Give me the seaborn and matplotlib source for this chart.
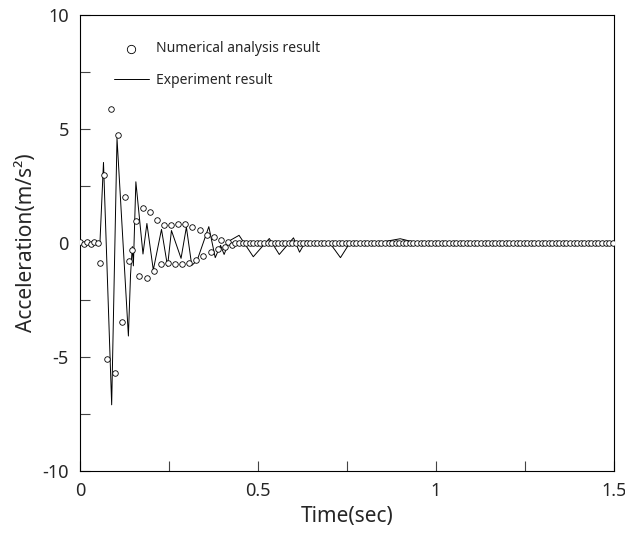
import matplotlib
matplotlib.use("Agg")
import matplotlib.pyplot as plt
import seaborn as sns
import numpy as np
import pandas as pd

num_t_early = [0.0, 0.01, 0.02, 0.03, 0.04, 0.05, 0.056, 0.068, 0.077, 0.087, 0.097, 0.106, 0.117, 0.126, 0.138, 0.147,
               0.157, 0.167, 0.177, 0.187, 0.198, 0.208, 0.216, 0.228, 0.236, 0.247, 0.256, 0.267, 0.276, 0.287,
               0.296, 0.307, 0.316, 0.326, 0.336, 0.347, 0.356, 0.367, 0.376, 0.387, 0.397, 0.407, 0.417, 0.427]
num_y_early = [0.05, -0.05, 0.05, -0.05, 0.05, 0.0, -0.88, 3.0, -5.09, 5.88, -5.7, 4.74, -3.48, 2.02, -0.79, -0.3,
               0.96, -1.43, 1.53, -1.55, 1.36, -1.24, 1.0, -0.93, 0.8, -0.88, 0.79, -0.9, 0.83, -0.92,
               0.82, -0.88, 0.72, -0.73, 0.56, -0.56, 0.37, -0.39, 0.25, -0.26, 0.13, -0.16, 0.03, -0.08]
num_t_late = [round(0.437 + 0.01 * i, 3) for i in range(107)]
num_y_late = [0.0] * 107

exp_t = [0.0, 0.02, 0.04, 0.05, 0.056, 0.066, 0.089, 0.104, 0.136, 0.142, 0.147, 0.150, 0.157, 0.177, 0.188,
         0.206, 0.229, 0.246, 0.257, 0.284, 0.299, 0.314, 0.329, 0.362, 0.38, 0.395, 0.405, 0.42, 0.447, 0.487,
         0.532, 0.56, 0.6, 0.617, 0.635, 0.66, 0.7, 0.732, 0.76, 0.8, 0.85, 0.9, 0.95, 1.0, 1.1, 1.2, 1.3, 1.4, 1.5]
exp_y = [0.1, -0.05, 0.05, 0.0, 0.0, 3.54, -7.1, 4.6, -4.08, -1.4, -0.15, -1.0, 2.69, -0.48, 0.86,
         -1.18, 0.6, -1.02, 0.55, -0.67, 0.7, -0.98, -0.77, 0.72, -0.64, -0.1, -0.5, 0.1, 0.34, -0.6,
         0.2, -0.5, 0.23, -0.4, 0.1, -0.05, 0.05, -0.64, 0.05, -0.05, 0.05, 0.19, 0.0, 0.05, 0.0, 0.03, 0.0, 0.02, 0.0]

sns.set_style("white")
plt.rcParams['font.family'] = ['Noto Sans', 'DejaVu Sans']
plt.rcParams['axes.unicode_minus'] = False

fig = plt.figure(figsize=(6.25, 5.45), dpi=100)
ax = fig.add_axes([0.128, 0.136, 0.854, 0.836])

num_df = pd.DataFrame({"t": num_t_early + num_t_late, "y": num_y_early + num_y_late})
exp_df = pd.DataFrame({"t": exp_t, "y": exp_y})

sns.lineplot(data=exp_df, x="t", y="y", ax=ax, color="black", linewidth=0.7, label="Experiment result", zorder=2)
ax.scatter(num_df["t"], num_df["y"], s=16, facecolors="white", edgecolors="black", linewidths=0.6,
           label="Numerical analysis result", zorder=3)

ax.set_xlim(0, 1.5)
ax.set_ylim(-10, 10)
ax.set_xticks([0, 0.5, 1, 1.5])
ax.set_xticklabels(["0", "0.5", "1", "1.5"])
ax.set_xticks([0.25, 0.75, 1.25], minor=True)
ax.set_yticks([-10, -5, 0, 5, 10])
ax.set_yticks([-7.5, -2.5, 2.5, 7.5], minor=True)
ax.tick_params(which="both", direction="in", bottom=True, left=True, length=7, width=0.8, labelsize=13,
               color="#444444")
ax.tick_params(which="major", pad=8)
for s in ax.spines.values():
    s.set_linewidth(0.8)
    s.set_color("black")
ax.set_xlabel("Time(sec)", fontsize=15)
ax.set_ylabel("Acceleration(m/s²)", fontsize=15)

h, l = ax.get_legend_handles_labels()
ax.legend([h[1], h[0]], [l[1], l[0]], loc="upper left", bbox_to_anchor=(0.04, 0.97), frameon=False,
          fontsize=10, handlelength=2.5, handletextpad=0.5, labelspacing=1.2, markerscale=1.5)

fig.savefig("out.png", dpi=100)
